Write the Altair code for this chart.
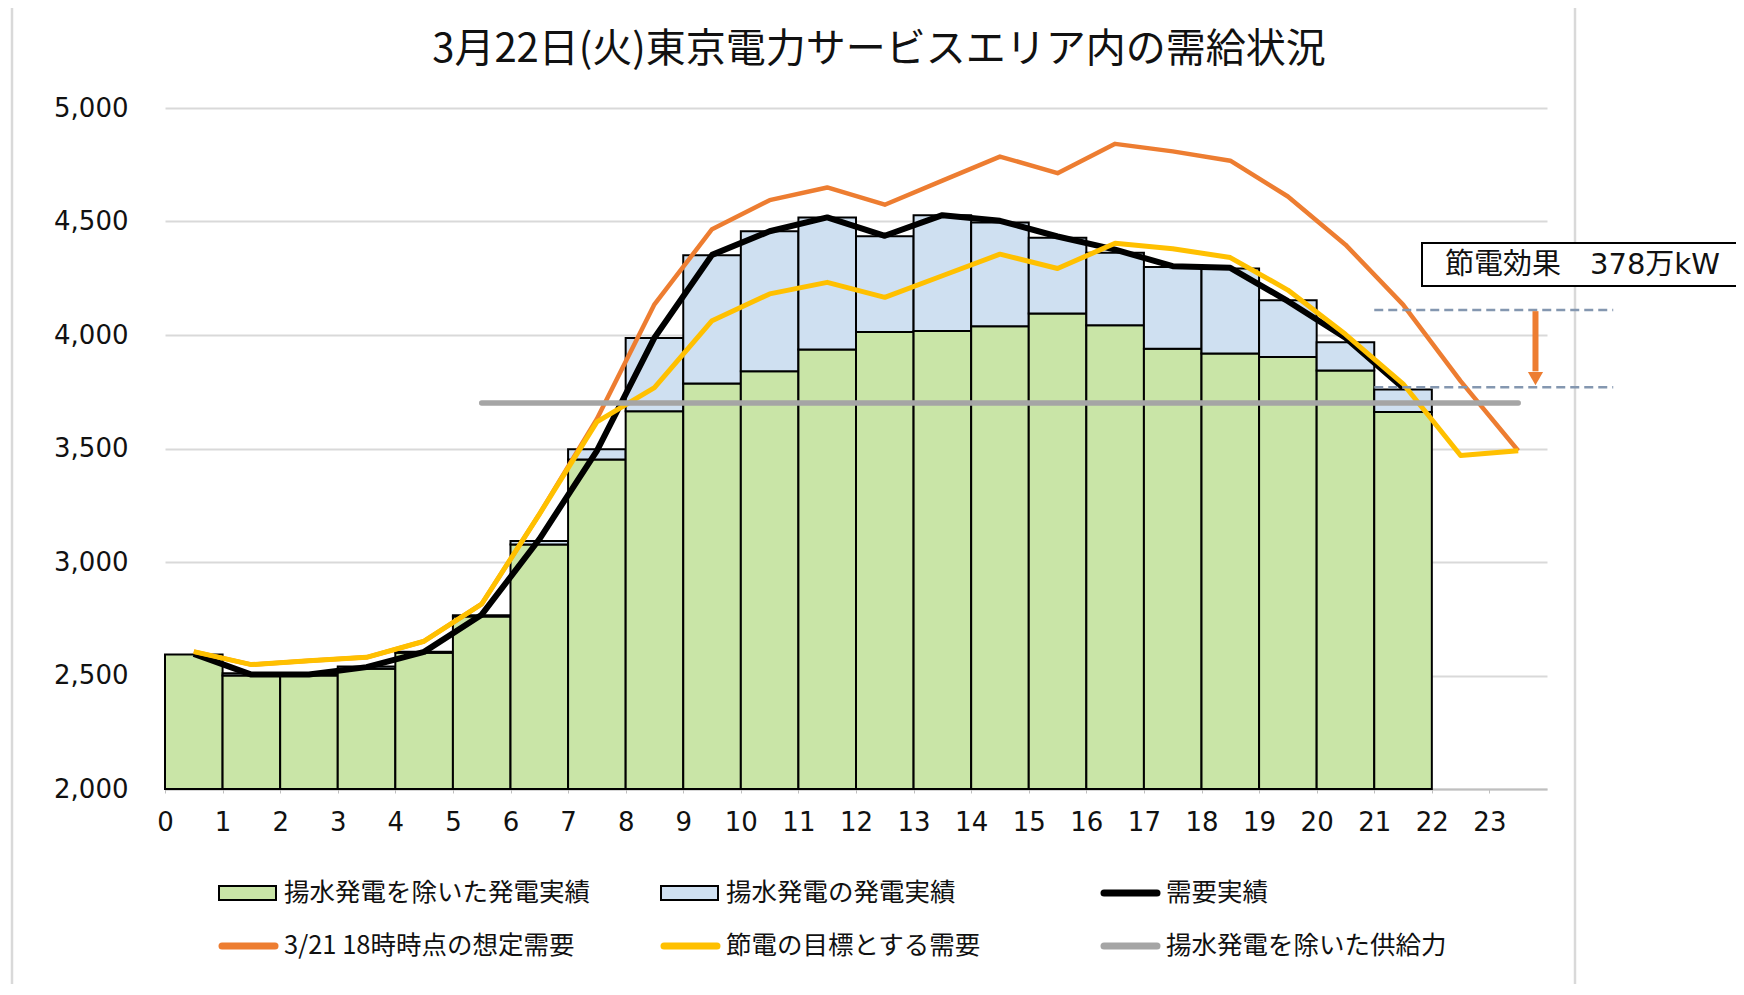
import altair as alt
import pandas as pd

# ---------------- data ----------------
HOURS = list(range(22))                       # bar start hour (bar spans hour .. hour+1)
GEN_EX_PUMP = [2593, 2500, 2500, 2530, 2600, 2760, 3077, 3451, 3664, 3786, 3840,
               3936, 4013, 4018, 4039, 4095, 4043, 3939, 3918, 3903, 3844, 3661]
GEN_TOTAL = [2593, 2510, 2505, 2540, 2605, 2765, 3093, 3497, 3987, 4351, 4457,
             4518, 4435, 4528, 4496, 4428, 4362, 4300, 4293, 4153, 3968, 3760]
DEMAND_ACTUAL = [2595, 2504, 2504, 2537, 2604, 2768, 3100, 3490, 3988, 4353, 4457,
                 4518, 4437, 4528, 4503, 4434, 4376, 4303, 4296, 4149, 3988, 3768]
FORECAST = [2605, 2548, 2565, 2580, 2651, 2815, 3210, 3630, 4135, 4466, 4594, 4650,
            4574, 4680, 4786, 4713, 4842, 4809, 4768, 4610, 4398, 4134, 3797, 3490]
TARGET = [2605, 2548, 2565, 2580, 2651, 2815, 3210, 3617, 3768, 4063, 4181, 4232,
          4166, 4261, 4356, 4293, 4404, 4380, 4341, 4198, 4003, 3785, 3469, 3490]
SUPPLY = [None] * 5 + [3700] * 19
SAVING_LEVELS = [4110, 3770]
X_TICKS = list(range(24))
Y_TICKS = [2000, 2500, 3000, 3500, 4000, 4500, 5000]

S_GREEN = "揚水発電を除いた発電実績"
S_BLUE = "揚水発電の発電実績"
S_DEMAND = "需要実績"
S_FORECAST = "3/21 18時時点の想定需要"
S_TARGET = "節電の目標とする需要"
S_SUPPLY = "揚水発電を除いた供給力"
TITLE = "3月22日(火)東京電力サービスエリア内の需給状況"
NOTE = "節電効果\u3000378万kW"

C_GREEN = "#C9E5A7"
C_BLUE = "#CFE0F1"
C_ORANGE = "#ED7D31"
C_YELLOW = "#FFC000"
C_GRAY = "#A5A5A5"
C_DASH = "#8497B0"

JP = "Noto Sans CJK JP"
NUM = "DejaVu Sans"

W, H = 1382, 681
Y_MIN = 2000

# ---------------- tables ----------------
bar_rows = []
for h, g, t in zip(HOURS, GEN_EX_PUMP, GEN_TOTAL):
    bar_rows.append({"h0": h, "h1": h + 1, "lo": Y_MIN, "hi": g, "series": S_GREEN})
    if t > g:
        bar_rows.append({"h0": h, "h1": h + 1, "lo": g, "hi": t, "series": S_BLUE})
bars_df = pd.DataFrame(bar_rows)


def line_df(values):
    rows = [{"mid": i + 0.5, "v": v} for i, v in enumerate(values) if v is not None]
    return pd.DataFrame(rows)


xscale = alt.Scale(domain=[0, 24], nice=False, zero=False)
yscale = alt.Scale(domain=[Y_MIN, 5000], nice=False, zero=False)

x_axis = alt.Axis(values=X_TICKS, format="d", title=None, grid=False, labelFont=NUM,
                  labelFontSize=26, labelColor="#111", labelPadding=16, tickSize=4,
                  tickColor="#BFBFBF", domainColor="#BFBFBF", domainWidth=2, labelFlush=False)
y_axis = alt.Axis(values=Y_TICKS, format=",.0f", title=None, grid=True, gridColor="#D9D9D9",
                  gridWidth=2, domain=False, ticks=False, tickSize=0, labelFont=NUM,
                  labelFontSize=26, labelColor="#111", labelPadding=37)


def X(field):
    return alt.X(field, scale=xscale, axis=x_axis)


def Y(field):
    return alt.Y(field, scale=yscale, axis=y_axis)


bars = alt.Chart(bars_df).mark_rect(stroke="black", strokeWidth=2).encode(
    x=X("h0:Q"),
    x2="h1:Q",
    y=Y("lo:Q"),
    y2="hi:Q",
    color=alt.Color("series:N", scale=alt.Scale(domain=[S_GREEN, S_BLUE],
                                                range=[C_GREEN, C_BLUE]), legend=None),
)


def line_layer(values, color, width, cap="butt"):
    return alt.Chart(line_df(values)).mark_line(
        color=color, strokeWidth=width, strokeJoin="round", strokeCap=cap
    ).encode(x=X("mid:Q"), y=Y("v:Q"))


l_demand = line_layer(DEMAND_ACTUAL, "black", 6)
l_forecast = line_layer(FORECAST, C_ORANGE, 4.5)
l_target = line_layer(TARGET, C_YELLOW, 5)
l_supply = line_layer(SUPPLY, C_GRAY, 5.5, cap="round")

# saving annotation (dashed levels + arrow)
dash_df = pd.DataFrame({"lvl": SAVING_LEVELS, "x0": [21, 21], "x1": [25.15, 25.15]})
dashes = alt.Chart(dash_df).mark_rule(color=C_DASH, strokeWidth=2.5, strokeDash=[9, 5]).encode(
    x=X("x0:Q"), x2="x1:Q", y=Y("lvl:Q"))

arrow_df = pd.DataFrame({"x": [23.8], "top": [SAVING_LEVELS[0] - 5], "bot": [3840], "head": [3808]})
arrow_shaft = alt.Chart(arrow_df).mark_rule(color=C_ORANGE, strokeWidth=6).encode(
    x=X("x:Q"), y=Y("top:Q"), y2="bot:Q")
arrow_head = alt.Chart(arrow_df).mark_point(
    shape="triangle-down", filled=True, color=C_ORANGE, opacity=1, size=230
).encode(x=X("x:Q"), y=Y("head:Q"))

one = pd.DataFrame({"a": [0]})

note_box = alt.Chart(one).mark_rect(fill="white", stroke="black", strokeWidth=2).encode(
    x=alt.value(1257), x2=alt.value(1600), y=alt.value(135), y2=alt.value(178))
note_text = alt.Chart(one).mark_text(
    font=f"{NUM}, {JP}", fontSize=29, align="left", baseline="middle", color="#111"
).encode(x=alt.value(1280), y=alt.value(157), text=alt.value(NOTE))

# outer chart frame (left, top, right edges; bottom runs off the page)
frame_style = dict(color="#D9D9D9", strokeWidth=2.5)
frame_left = alt.Chart(one).mark_rule(**frame_style).encode(
    x=alt.value(-153), y=alt.value(-103), y2=alt.value(1000))
frame_right = alt.Chart(one).mark_rule(**frame_style).encode(
    x=alt.value(1410), y=alt.value(-103), y2=alt.value(1000))
frame_top = alt.Chart(one).mark_rule(**frame_style).encode(
    x=alt.value(-153), x2=alt.value(1410), y=alt.value(-103))

title = alt.Chart(one).mark_text(
    font=JP, fontSize=40, align="center", baseline="middle", color="#111"
).encode(x=alt.value(714), y=alt.value(-58), text=alt.value(TITLE))

# ---------------- legend ----------------
legend_items = [
    (S_GREEN, "rect", C_GREEN),
    (S_BLUE, "rect", C_BLUE),
    (S_DEMAND, "line", "black"),
    (S_FORECAST, "line", C_ORANGE),
    (S_TARGET, "line", C_YELLOW),
    (S_SUPPLY, "line", C_GRAY),
]
col_x = [54, 496, 936]
row_y = [785, 838]
legend_layers = []
for i, (label, kind, color) in enumerate(legend_items):
    cx = col_x[i % 3]
    cy = row_y[i // 3]
    if kind == "rect":
        sym = alt.Chart(one).mark_rect(fill=color, stroke="black", strokeWidth=2).encode(
            x=alt.value(cx), x2=alt.value(cx + 57), y=alt.value(cy - 7), y2=alt.value(cy + 7))
    else:
        sym = alt.Chart(one).mark_rule(color=color, strokeWidth=7, strokeCap="round").encode(
            x=alt.value(cx + 3), x2=alt.value(cx + 56), y=alt.value(cy))
    txt = alt.Chart(one).mark_text(
        font=JP, fontSize=25.5, align="left", baseline="middle", color="#111"
    ).encode(x=alt.value(cx + 65), y=alt.value(cy), text=alt.value(label))
    legend_layers += [sym, txt]

chart = alt.layer(
    frame_left, frame_right, frame_top, bars, l_demand, l_forecast, l_target, l_supply,
    dashes, arrow_shaft, arrow_head, note_box, note_text, title, *legend_layers
).properties(
    width=W, height=H,
    autosize=alt.AutoSizeParams(type="none"),
    padding={"left": 157, "top": 100, "right": 189, "bottom": 195},
    background="white",
).configure_view(strokeWidth=0).configure_axis(labelFont=NUM)

chart.save("out.html", embed_options={"renderer": "svg", "actions": False})
